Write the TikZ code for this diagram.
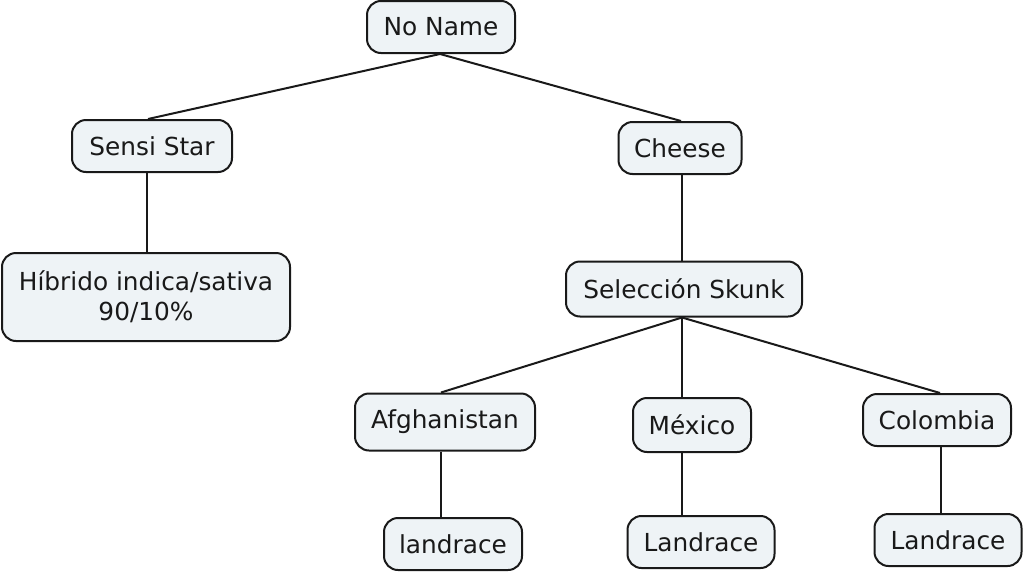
\documentclass[tikz,border=0pt]{standalone}
\usepackage{fontspec}
\setmainfont{DejaVu Sans}
\newcommand{\bx}[6]{\node[box,minimum width=#4*0.75pt,minimum height=#5*0.75pt,align=center] (#1) at (#2*0.75pt,-#3*0.75pt) {#6};}
\definecolor{boxfill}{HTML}{EEF3F6}
\tikzset{box/.style={draw=black!90,line width=1.5pt,fill=boxfill,rounded corners=10.5pt,inner sep=0pt,font=\fontsize{18.6}{22.5}\selectfont,text=black!90},
link/.style={draw=black!90,line width=1.5pt}}
\begin{document}
\begin{tikzpicture}
\useasboundingbox[fill=white] (0,0) rectangle (1024*0.75pt,-575*0.75pt);
\bx{noname}{441}{27}{148}{52}{No Name}
\bx{sensi}{152}{146}{160}{52}{Sensi Star}
\bx{cheese}{680}{148}{123}{52}{Cheese}
\bx{hibrido}{146}{297}{288}{88}{Híbrido indica/sativa\\90/10\%}
\bx{skunk}{684}{289}{236}{55}{Selección Skunk}
\bx{afg}{445}{422}{180}{57}{Afghanistan}
\bx{mex}{692}{425}{118}{54}{México}
\bx{col}{937}{420}{148}{52}{Colombia}
\bx{lan1}{453}{544}{138}{52}{landrace}
\bx{lan2}{701}{542}{147}{52}{Landrace}
\bx{lan3}{948}{540}{147}{52}{Landrace}
\draw[link] ([xshift=-3pt]sensi.north) -- ([xshift=-0.75pt]noname.south) -- ([xshift=0.75pt]cheese.north);
\draw[link] ([xshift=-3.75pt]sensi.south) -- ([xshift=0.75pt]hibrido.north);
\draw[link] ([xshift=1.5pt]cheese.south) -- ([xshift=-1.5pt]skunk.north);
\draw[link] ([xshift=-3pt]afg.north) -- ([xshift=-1.5pt]skunk.south) -- ([xshift=2.25pt]col.north);
\draw[link] ([xshift=-1.5pt]skunk.south) -- ([xshift=-7.5pt]mex.north);
\draw[link] ([xshift=-3pt]afg.south) -- ([xshift=-9pt]lan1.north);
\draw[link] ([xshift=-7.5pt]mex.south) -- ([xshift=-14.25pt]lan2.north);
\draw[link] ([xshift=3pt]col.south) -- ([xshift=-5.25pt]lan3.north);
\end{tikzpicture}
\end{document}
